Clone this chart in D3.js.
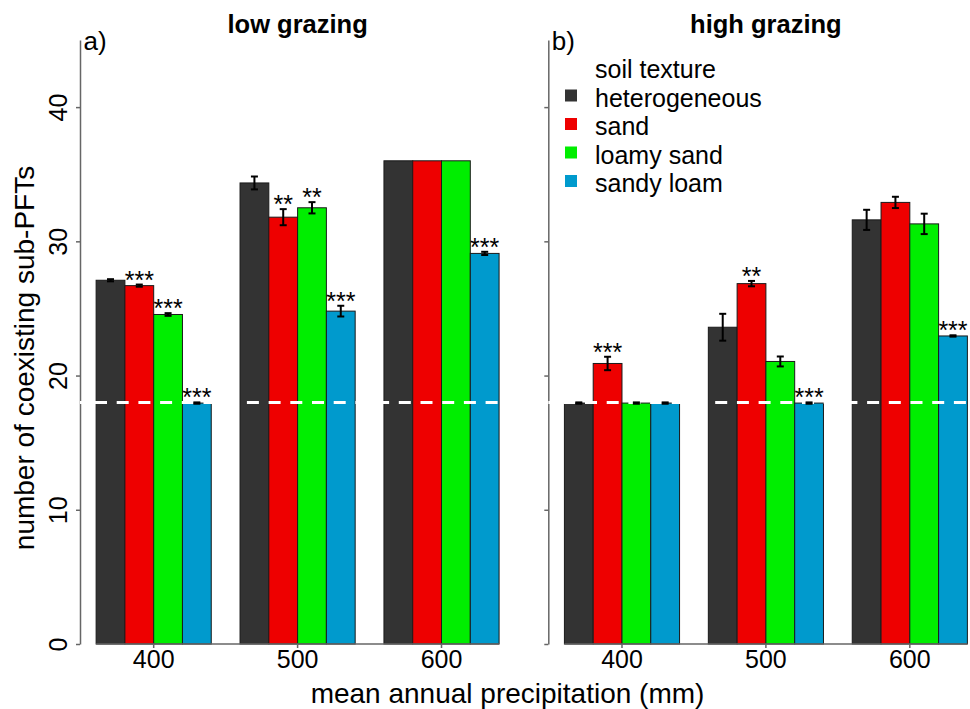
<!DOCTYPE html>
<html><head><meta charset="utf-8">
<script src="https://cdn.jsdelivr.net/npm/d3@7"></script>
<style>
body{margin:0;background:#fff}
svg{display:block}
text{font-family:"Liberation Sans",Arial,Helvetica,sans-serif;fill:#000}
</style>
</head><body>
<svg id="chart" width="970" height="709"></svg>
<script>
// ---------- data ----------
const precipitation = ["400", "500", "600"];
const soilTextures = ["heterogeneous", "sand", "loamy sand", "sandy loam"];
const textureColors = ["#333333", "#EE0000", "#00EE00", "#009ACD"];
const yTicks = [0, 10, 20, 30, 40];
const panelTitles = ["low grazing", "high grazing"];
const panelLetters = ["a)", "b)"];
const legendTitle = "soil texture";
const xAxisTitle = "mean annual precipitation (mm)";
const yAxisTitle = "number of coexisting sub-PFTs";
const referenceLine = 18;

// low grazing: mean per precipitation level (400, 500, 600)
const lowHeterogeneous = [27.1, 34.35, 36];
const lowSand = [26.7, 31.8, 36];
const lowLoamySand = [24.55, 32.5, 36];
const lowSandyLoam = [17.95, 24.8, 29.1];
// low grazing: standard errors
const lowHeterogeneousSE = [0.08, 0.48, 0];
const lowSandSE = [0.08, 0.6, 0];
const lowLoamySandSE = [0.1, 0.42, 0];
const lowSandyLoamSE = [0.05, 0.4, 0.12];
// low grazing: significance labels
const lowHeterogeneousSig = ["", "", ""];
const lowSandSig = ["***", "**", ""];
const lowLoamySandSig = ["***", "**", ""];
const lowSandyLoamSig = ["***", "***", "***"];

// high grazing: means
const highHeterogeneous = [17.95, 23.6, 31.6];
const highSand = [20.9, 26.85, 32.9];
const highLoamySand = [17.95, 21.05, 31.3];
const highSandyLoam = [17.95, 17.95, 22.95];
// high grazing: standard errors
const highHeterogeneousSE = [0.05, 1.0, 0.75];
const highSandSE = [0.5, 0.2, 0.42];
const highLoamySandSE = [0.05, 0.37, 0.76];
const highSandyLoamSE = [0.05, 0.05, 0.05];
// high grazing: significance labels
const highHeterogeneousSig = ["", "", ""];
const highSandSig = ["***", "**", ""];
const highLoamySandSig = ["", "", ""];
const highSandyLoamSig = ["", "***", "***"];

// ---------- build rows ----------
function rows(means, ses, sigs) {
  const out = [];
  soilTextures.forEach((tex, si) => {
    precipitation.forEach((pr, pi) => {
      out.push({prec: pr, tex: tex, mean: means[si][pi], se: ses[si][pi], sig: sigs[si][pi]});
    });
  });
  return out;
}
const lowRows = rows(
  [lowHeterogeneous, lowSand, lowLoamySand, lowSandyLoam],
  [lowHeterogeneousSE, lowSandSE, lowLoamySandSE, lowSandyLoamSE],
  [lowHeterogeneousSig, lowSandSig, lowLoamySandSig, lowSandyLoamSig]);
const highRows = rows(
  [highHeterogeneous, highSand, highLoamySand, highSandyLoam],
  [highHeterogeneousSE, highSandSE, highLoamySandSE, highSandyLoamSE],
  [highHeterogeneousSig, highSandSig, highLoamySandSig, highSandyLoamSig]);

// ---------- drawing ----------
const svg = d3.select("#chart");
svg.append("rect").attr("width", 970).attr("height", 709).attr("fill", "#fff");

const y = d3.scaleLinear().domain([0, 45]).range([644, 40]);
const color = d3.scaleOrdinal().domain(soilTextures).range(textureColors);

const panels = [
  {x0: 80, x1: 515.2, data: lowRows, title: panelTitles[0], letter: panelLetters[0], labels: true, legend: false},
  {x0: 548.3, x1: 983.5, data: highRows, title: panelTitles[1], letter: panelLetters[1], labels: false, legend: true}
];

panels.forEach(p => {
  const g = svg.append("g");
  const x = d3.scaleBand().domain(precipitation).range([p.x0, p.x1])
    .paddingInner(0.2).paddingOuter(0.112);
  const xs = d3.scaleBand().domain(soilTextures).range([0, x.bandwidth()]);

  // bars
  g.selectAll("rect.bar").data(p.data).join("rect")
    .attr("class", "bar")
    .attr("x", d => x(d.prec) + xs(d.tex))
    .attr("y", d => y(d.mean))
    .attr("width", xs.bandwidth())
    .attr("height", d => y(0) - y(d.mean))
    .attr("fill", d => color(d.tex))
    .attr("stroke", "#1a1a1a")
    .attr("stroke-width", 1);

  // x baseline under bars
  g.append("line")
    .attr("x1", x(precipitation[0])).attr("x2", x(precipitation[precipitation.length - 1]) + x.bandwidth())
    .attr("y1", y(0)).attr("y2", y(0))
    .attr("stroke", "#666").attr("stroke-width", 1.5);

  // x axis ticks + labels
  const xAxis = g.append("g").attr("transform", `translate(0,${y(0)})`)
    .call(d3.axisBottom(x).tickSize(4).tickSizeOuter(0));
  xAxis.select(".domain").remove();
  xAxis.selectAll(".tick line").attr("stroke", "#666").attr("stroke-width", 1.5);
  xAxis.selectAll(".tick text").attr("y", 24).attr("dy", 0)
    .style("font-size", "25px").style("font-family", "'Liberation Sans',Arial,sans-serif").attr("fill", "#000");

  // y axis
  const yAxis = g.append("g").attr("transform", `translate(${p.x0},0)`)
    .call(d3.axisLeft(y).tickValues(yTicks).tickSize(4).tickSizeOuter(0));
  yAxis.select(".domain").attr("stroke", "#666").attr("stroke-width", 1.5);
  yAxis.selectAll(".tick line").attr("stroke", "#666").attr("stroke-width", 1.5);
  if (p.labels) {
    yAxis.selectAll(".tick text")
      .attr("transform", "rotate(-90)")
      .attr("x", 0).attr("y", -13).attr("dy", 0)
      .attr("text-anchor", "middle")
      .style("font-size", "25px").style("font-family", "'Liberation Sans',Arial,sans-serif").attr("fill", "#000");
  } else {
    yAxis.selectAll(".tick text").remove();
  }

  // dashed reference line
  g.append("line")
    .attr("x1", p.x0).attr("x2", p.x1)
    .attr("y1", y(referenceLine)).attr("y2", y(referenceLine))
    .attr("stroke", "#fff").attr("stroke-width", 3)
    .attr("stroke-dasharray", "12,9.7").attr("stroke-dashoffset", 6.7);

  // error bars
  const eb = p.data.filter(d => d.se > 0);
  const cx = d => x(d.prec) + xs(d.tex) + xs.bandwidth() / 2;
  const ebG = g.append("g").attr("stroke", "#000").attr("stroke-width", 2);
  ebG.selectAll("line.v").data(eb).join("line").attr("class", "v")
    .attr("x1", cx).attr("x2", cx)
    .attr("y1", d => y(d.mean - d.se)).attr("y2", d => y(d.mean + d.se));
  ebG.selectAll("line.t").data(eb).join("line").attr("class", "t")
    .attr("x1", d => cx(d) - 3.5).attr("x2", d => cx(d) + 3.5)
    .attr("y1", d => y(d.mean + d.se)).attr("y2", d => y(d.mean + d.se));
  ebG.selectAll("line.b").data(eb).join("line").attr("class", "b")
    .attr("x1", d => cx(d) - 3.5).attr("x2", d => cx(d) + 3.5)
    .attr("y1", d => y(d.mean - d.se)).attr("y2", d => y(d.mean - d.se));

  // significance stars
  g.selectAll("text.sig").data(p.data.filter(d => d.sig)).join("text")
    .attr("class", "sig")
    .attr("x", cx)
    .attr("y", d => y(d.mean + d.se) + 4)
    .attr("text-anchor", "middle")
    .style("font-size", "25px")
    .text(d => d.sig);

  // panel title and letter
  g.append("text").attr("x", (p.x0 + p.x1) / 2).attr("y", 33)
    .attr("text-anchor", "middle").style("font-size", "25.5px").style("font-weight", "bold")
    .text(p.title);
  g.append("text").attr("x", p.x0 + 3.5).attr("y", 50)
    .style("font-size", "26px").text(p.letter);

  // legend
  if (p.legend) {
    const lg = g.append("g");
    lg.append("text").attr("x", 595).attr("y", 78).style("font-size", "25px").text(legendTitle);
    const items = lg.selectAll("g.item").data(soilTextures).join("g").attr("class", "item")
      .attr("transform", (d, i) => `translate(0,${78 + 28.5 * (i + 1)})`);
    items.append("rect").attr("x", 565).attr("y", -17).attr("width", 12).attr("height", 12)
      .attr("fill", d => color(d));
    items.append("text").attr("x", 595).attr("y", 0).style("font-size", "25px").text(d => d);
  }
});

// axis titles
svg.append("text").attr("x", 507.5).attr("y", 703).attr("text-anchor", "middle")
  .style("font-size", "28px").text(xAxisTitle);
svg.append("text").attr("transform", "translate(34,358) rotate(-90)").attr("text-anchor", "middle")
  .style("font-size", "28px").text(yAxisTitle);
</script>
</body></html>
